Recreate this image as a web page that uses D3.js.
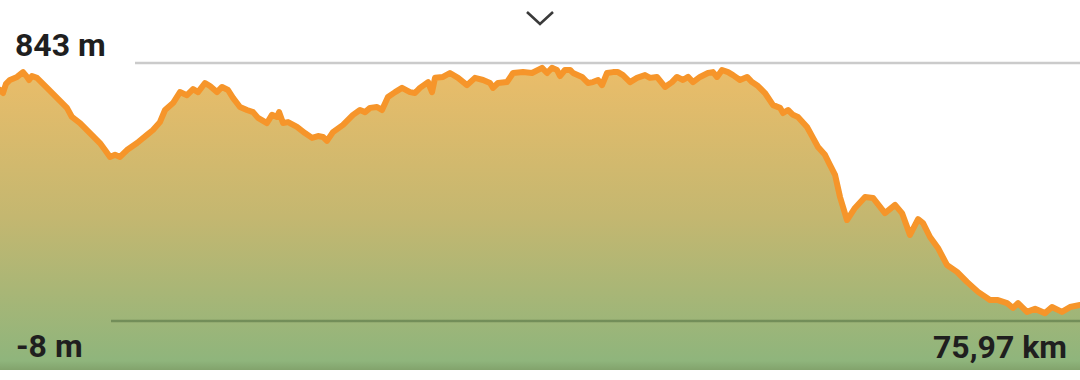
<!DOCTYPE html>
<html>
<head>
<meta charset="utf-8">
<script src="https://cdn.jsdelivr.net/npm/d3@7"></script>
<style>
  html, body { margin: 0; padding: 0; background: #fff; }
  svg { display: block; }
  .lbl { font-family: Roboto, "Noto Sans", sans-serif; font-weight: 700; font-size: 32px; fill: #1f1f1f; }
</style>
</head>
<body>
<div id="chart"></div>
<script>
// profil altimétrique : distance (km) et altitude (m)
const distanceKm = [0, 0.21, 0.42, 0.70, 1.20, 1.62, 1.90, 2.04, 2.25, 2.60, 3.31, 4.01, 4.71, 5.06, 5.63, 6.33, 7.03, 7.39, 7.74, 8.09,
  8.44, 8.93, 9.64, 10.34, 10.76, 11.25, 11.61, 12.17, 12.66, 13.15, 13.58, 13.93, 14.42, 14.77, 15.26, 15.62, 16.04, 16.39, 16.88, 17.37,
  17.80, 18.15, 18.78, 19.13, 19.48, 19.63, 19.91, 20.26, 20.89, 21.45, 21.95, 22.37, 22.72, 23.00, 23.42, 24.13, 24.83, 25.32, 25.68, 26.03,
  26.52, 26.87, 27.29, 27.79, 28.28, 28.84, 29.19, 29.54, 30.11, 30.39, 30.60, 31.16, 31.65, 32.22, 32.85, 33.41, 33.98, 34.47, 34.68, 35.03,
  35.66, 36.09, 36.79, 37.42, 38.13, 38.48, 38.83, 39.18, 39.39, 39.74, 40.10, 40.31, 40.94, 41.36, 41.71, 42.07, 42.35, 42.70, 43.12, 43.47,
  43.82, 44.32, 44.81, 45.37, 45.72, 46.21, 46.78, 47.27, 47.62, 48.04, 48.40, 48.75, 49.24, 49.80, 50.15, 50.44, 50.79, 51.21, 51.56, 52.05,
  52.55, 52.90, 53.32, 53.81, 54.38, 54.87, 55.08, 55.43, 55.78, 56.13, 56.77, 57.19, 57.54, 58.03, 58.38, 58.74, 59.09, 59.58, 60.14, 60.85,
  61.41, 62.25, 62.96, 63.45, 64.01, 64.58, 64.93, 65.42, 65.98, 66.61, 67.32, 68.02, 68.80, 69.64, 70.20, 70.84, 71.26, 71.61, 72.24, 72.81,
  73.51, 74.00, 74.70, 75.27, 75.97];

const altitudeM = [754, 744, 774, 787, 797, 813, 797, 787, 800, 794, 761, 728, 695, 665, 645, 612, 579, 556, 533, 540,
  533, 556, 579, 606, 622, 648, 688, 711, 747, 737, 757, 747, 777, 767, 747, 764, 754, 728, 698, 688,
  681, 662, 645, 672, 665, 681, 645, 648, 632, 612, 596, 602, 599, 586, 615, 639, 672, 688, 681, 695,
  698, 688, 731, 747, 761, 747, 744, 761, 780, 747, 794, 797, 810, 794, 770, 794, 787, 777, 761, 777,
  780, 810, 813, 810, 827, 810, 827, 820, 800, 820, 820, 810, 797, 777, 780, 787, 770, 810, 813, 813,
  803, 780, 794, 803, 794, 797, 764, 780, 797, 787, 797, 780, 797, 810, 813, 797, 820, 813, 803, 787,
  797, 780, 767, 744, 704, 695, 678, 688, 672, 665, 632, 596, 566, 540, 507, 474, 401, 325, 365, 401,
  398, 348, 375, 348, 276, 328, 315, 269, 233, 177, 154, 121, 88, 61, 61, 51, 35, 51, 22, 32,
  18, 38, 22, 38, 45];

const altMax = 843;
const altMin = -8;
const totalKm = 75.97;
const labelTop = "843 m";
const labelBottom = "-8 m";
const labelDistance = "75,97 km";

const width = 1080;
const height = 380;
const fillBottom = 370;

const data = distanceKm.map((d, i) => ({ km: d, alt: altitudeM[i] }));

const x = d3.scaleLinear().domain([0, totalKm]).range([0, width]);
const y = d3.scaleLinear().domain([altMin, altMax]).range([321, 63]);

const svg = d3.select("#chart")
    .append("svg")
    .attr("width", width)
    .attr("height", height);

const defs = svg.append("defs");
const grad = defs.append("linearGradient")
    .attr("id", "fillGrad")
    .attr("gradientUnits", "userSpaceOnUse")
    .attr("x1", 0).attr("x2", 0)
    .attr("y1", y(altMax)).attr("y2", fillBottom);
grad.append("stop").attr("offset", "0%").attr("stop-color", "#ecbd69");
grad.append("stop").attr("offset", "50%").attr("stop-color", "#c4b770");
grad.append("stop").attr("offset", "97%").attr("stop-color", "#8fb57c");
grad.append("stop").attr("offset", "100%").attr("stop-color", "#82a36c");

defs.append("clipPath").attr("id", "clip")
    .append("rect").attr("x", 0).attr("y", 0).attr("width", width).attr("height", fillBottom);

const g = svg.append("g").attr("clip-path", "url(#clip)");

const area = d3.area()
    .x(d => x(d.km))
    .y0(fillBottom)
    .y1(d => y(d.alt));

const line = d3.line()
    .x(d => x(d.km))
    .y(d => y(d.alt));

g.append("path")
    .datum(data)
    .attr("d", area)
    .attr("fill", "url(#fillGrad)");

// lignes de repère min / max
svg.append("line")
    .attr("x1", 135).attr("x2", width)
    .attr("y1", y(altMax)).attr("y2", y(altMax))
    .attr("stroke", "#cbcbcb")
    .attr("stroke-width", 2.5);

svg.append("line")
    .attr("x1", 111).attr("x2", width)
    .attr("y1", y(altMin)).attr("y2", y(altMin))
    .attr("stroke", "#3f5e33")
    .attr("stroke-opacity", 0.45)
    .attr("stroke-width", 2.5);

g.append("path")
    .datum(data)
    .attr("d", line)
    .attr("fill", "none")
    .attr("stroke", "#f6952a")
    .attr("stroke-width", 6)
    .attr("stroke-linejoin", "round")
    .attr("stroke-linecap", "round");

// textes
svg.append("text").attr("class", "lbl")
    .attr("x", 15).attr("y", 56)
    .text(labelTop);

svg.append("text").attr("class", "lbl")
    .attr("x", 16).attr("y", 357)
    .text(labelBottom);

svg.append("text").attr("class", "lbl")
    .attr("x", 1067).attr("y", 358)
    .attr("text-anchor", "end")
    .text(labelDistance);

// chevron en haut
svg.append("path")
    .attr("d", "M527,12 L540,24 L553,12")
    .attr("fill", "none")
    .attr("stroke", "#3a3a3a")
    .attr("stroke-width", 2.6);
</script>
</body>
</html>
